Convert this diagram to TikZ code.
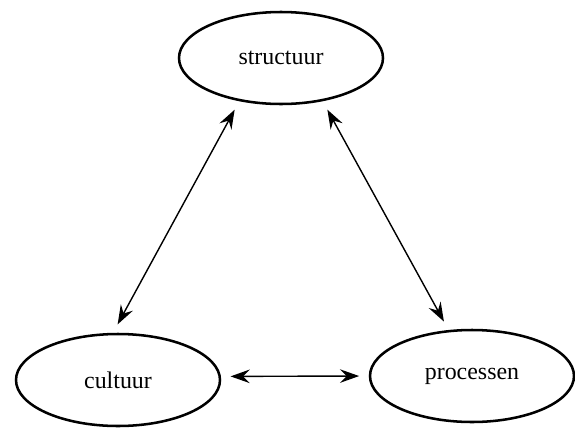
\documentclass[tikz,border=0pt]{standalone}
\usepackage{fontspec}
\setmainfont{Liberation Serif}
\usetikzlibrary{arrows.meta,shapes.geometric}

\begin{document}
\begin{tikzpicture}[
  concept/.style={draw,ellipse,line width=1.8pt,minimum width=5.1cm,minimum height=2.3cm,
    inner sep=0pt,font=\fontsize{17}{20}\selectfont},
  link/.style={{Stealth[length=4.8mm,width=3.4mm,inset=1.7mm]}-{Stealth[length=4.8mm,width=3.4mm,inset=1.7mm]},
    line width=1pt,shorten <=2.4mm,shorten >=2.4mm}]
  \useasboundingbox (0,0) rectangle (14.375,-10.675);
  \node[concept] (str) at (7.025,-1.45) {structuur};
  \node[concept] (cul) at (2.95,-9.5)   {cultuur};
  \node[concept] (pro) at (11.8,-9.4)   {processen};
  \draw[link] (str.226) -- (cul.96);
  \draw[link] (str.314) -- (pro.117);
  \draw[link] (cul.2) -- (pro.west);
\end{tikzpicture}
\end{document}
